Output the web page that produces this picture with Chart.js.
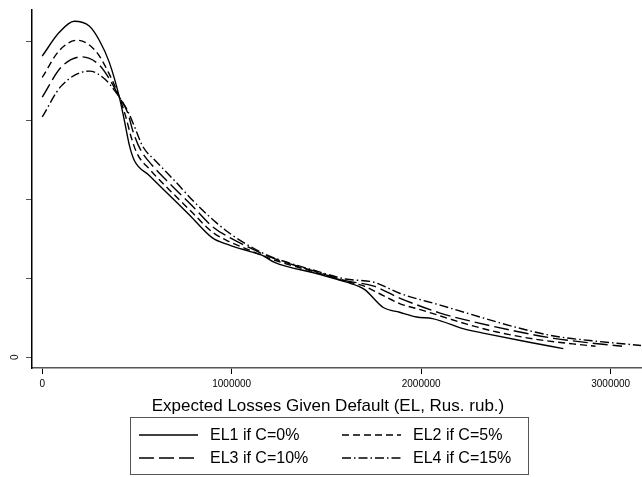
<!DOCTYPE html>
<html>
<head>
<meta charset="utf-8">
<script src="https://cdn.jsdelivr.net/npm/chart.js"></script>
<style>
  html, body { margin: 0; padding: 0; background: #fff; }
  #wrap { width: 642px; height: 477px; }
</style>
</head>
<body>
<div id="wrap"><canvas id="c" width="642" height="477"></canvas></div>
<script>
// kernel density of expected losses (y in tick units)
const el1X = [0, 90000, 169000, 248000, 301000, 354000, 407000, 433000, 460000, 486000, 565000, 671000, 777000, 898000, 988000, 1094000, 1162000, 1226000, 1447000, 1606000, 1700000, 1800000, 1886000, 1976000, 2060000, 2240000, 2320000, 2570000, 2750000];
const el1Y = [3.81, 4.11, 4.25, 4.19, 4.01, 3.73, 3.29, 3.00, 2.68, 2.49, 2.30, 2.05, 1.80, 1.51, 1.42, 1.34, 1.29, 1.20, 1.06, 0.95, 0.86, 0.63, 0.57, 0.51, 0.49, 0.35, 0.31, 0.19, 0.11];

const el2X = [0, 90000, 185000, 280000, 350000, 407000, 440000, 470000, 500000, 570000, 670000, 780000, 900000, 990000, 1090000, 1200000, 1450000, 1600000, 1700000, 1800000, 1886000, 2000000, 2240000, 2400000, 2600000, 2800000, 2920000];
const el2Y = [3.54, 3.88, 4.01, 3.88, 3.60, 3.29, 3.05, 2.78, 2.58, 2.37, 2.12, 1.86, 1.58, 1.46, 1.36, 1.25, 1.07, 0.96, 0.90, 0.78, 0.68, 0.60, 0.42, 0.32, 0.23, 0.17, 0.14];

const el3X = [0, 100000, 210000, 300000, 360000, 407000, 450000, 480000, 520000, 580000, 680000, 790000, 900000, 1000000, 1100000, 1200000, 1450000, 1600000, 1750000, 1886000, 2100000, 2240000, 2500000, 2700000, 2900000, 3060000];
const el3Y = [3.29, 3.67, 3.80, 3.70, 3.50, 3.29, 3.10, 2.85, 2.62, 2.43, 2.18, 1.92, 1.65, 1.50, 1.38, 1.27, 1.08, 0.97, 0.90, 0.75, 0.56, 0.47, 0.33, 0.24, 0.18, 0.14];

const el4X = [0, 100000, 250000, 330000, 380000, 407000, 450000, 490000, 530000, 600000, 700000, 800000, 920000, 1000000, 1100000, 1200000, 1450000, 1600000, 1750000, 1886000, 2100000, 2240000, 2500000, 2700000, 2940000, 3160000];
const el4Y = [3.04, 3.43, 3.62, 3.52, 3.38, 3.29, 3.12, 2.90, 2.67, 2.48, 2.23, 1.97, 1.70, 1.55, 1.40, 1.28, 1.09, 0.99, 0.95, 0.81, 0.66, 0.56, 0.38, 0.27, 0.20, 0.15];

const seriesNames = ['EL1 if C=0%', 'EL2 if C=5%', 'EL3 if C=10%', 'EL4 if C=15%'];
const xTicks = [0, 1000000, 2000000, 3000000];
const yTicks = [0, 1, 2, 3, 4];

const dashes = [[], [7, 4], [15, 5], [9, 3, 1.5, 3]];
const allX = [el1X, el2X, el3X, el4X];
const allY = [el1Y, el2Y, el3Y, el4Y];

const FONT = '"Liberation Sans", Arial, sans-serif';

const datasets = seriesNames.map((name, i) => ({
    label: name,
    data: allX[i].map((x, j) => ({ x: x, y: allY[i][j] })),
    showLine: true,
    borderColor: '#000',
    borderWidth: 1.4,
    borderDash: dashes[i],
    pointRadius: 0,
    fill: false,
    cubicInterpolationMode: 'monotone'
}));

// rotated "0" label, x title and legend box drawn under the plot
const extrasPlugin = {
    id: 'extras',
    afterDraw(chart) {
        const ctx = chart.ctx;
        const ys = chart.scales.y;
        ctx.save();
        ctx.fillStyle = '#000';
        ctx.font = '10px ' + FONT;
        ctx.translate(15, ys.getPixelForValue(0));
        ctx.rotate(-Math.PI / 2);
        ctx.textAlign = 'center';
        ctx.textBaseline = 'middle';
        ctx.fillText('0', 0, 0);
        ctx.restore();

        // axis title
        ctx.save();
        ctx.fillStyle = '#000';
        ctx.font = '17px ' + FONT;
        ctx.textAlign = 'center';
        ctx.textBaseline = 'middle';
        ctx.fillText('Expected Losses Given Default (EL, Rus. rub.)', 328, 406);

        // legend
        const bx = 130, by = 417, bw = 398, bh = 57;
        ctx.strokeStyle = '#555';
        ctx.lineWidth = 1;
        ctx.strokeRect(bx + 0.5, by + 0.5, bw, bh);
        const cols = [139, 342];
        const rows = [435, 458];
        ctx.font = '16px ' + FONT;
        ctx.textAlign = 'left';
        seriesNames.forEach((name, i) => {
            const cx = cols[i % 2];
            const cy = rows[Math.floor(i / 2)];
            ctx.beginPath();
            ctx.setLineDash(dashes[i]);
            ctx.lineWidth = 1.4;
            ctx.strokeStyle = '#000';
            ctx.moveTo(cx, cy);
            ctx.lineTo(cx + 59, cy);
            ctx.stroke();
            ctx.setLineDash([]);
            ctx.fillText(name, cx + 71, cy + 1);
        });
        ctx.restore();
    }
};

new Chart(document.getElementById('c'), {
    type: 'scatter',
    data: { datasets: datasets },
    options: {
        responsive: false,
        animation: false,
        layout: { padding: { left: 0, top: 8, right: 1, bottom: 59 } },
        plugins: {
            legend: { display: false },
            tooltip: { enabled: false }
        },
        scales: {
            x: {
                type: 'linear',
                min: -54000,
                max: 3160000,
                afterBuildTicks: s => { s.ticks = xTicks.map(v => ({ value: v })); },
                afterFit: s => { s.height = 50; },
                grid: { drawOnChartArea: false, drawTicks: true, tickLength: 6, color: '#000' },
                border: { display: true, color: '#555', width: 1.5 },
                ticks: {
                    color: '#000',
                    font: { size: 10, family: FONT },
                    maxRotation: 0,
                    padding: 4,
                    callback: v => String(v)
                }
            },
            y: {
                type: 'linear',
                min: -0.135,
                max: 4.39,
                afterBuildTicks: s => { s.ticks = yTicks.map(v => ({ value: v })); },
                afterFit: s => { s.width = 32; },
                grid: { drawOnChartArea: false, drawTicks: true, tickLength: 6, color: '#555' },
                border: { display: true, color: '#000', width: 1.5 },
                ticks: { callback: () => '' }
            }
        }
    },
    plugins: [extrasPlugin]
});
</script>
</body>
</html>
